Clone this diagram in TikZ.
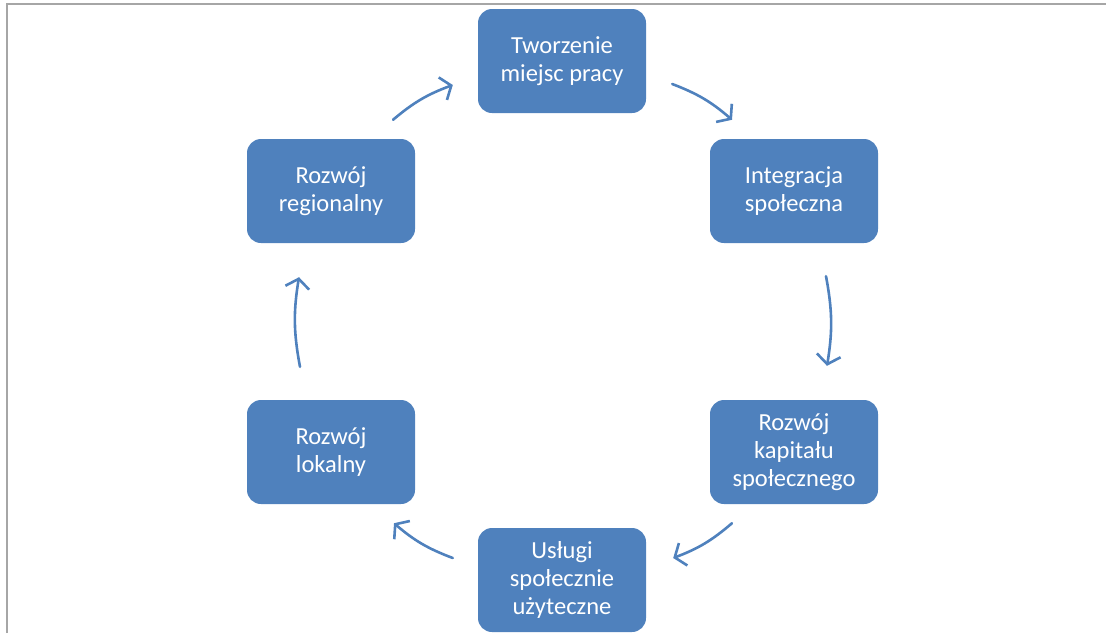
\documentclass[tikz,border=0pt]{standalone}
\usepackage{fontspec}
\setmainfont{Carlito}
\usetikzlibrary{arrows.meta}
\definecolor{niebieski}{HTML}{4F81BD}
\definecolor{ramka}{HTML}{A6A6A6}
\tikzset{
  blok/.style={rectangle,rounded corners=14pt,fill=niebieski,text=white,
    minimum width=168pt,minimum height=104pt,align=center,
    font=\fontsize{24.5}{28}\selectfont},
  strzalka/.style={niebieski,line width=2.6pt,line cap=round,
    -{Straight Barb[length=9pt,width=24pt,line width=2.6pt]},bend left=10}
}
\begin{document}
\begin{tikzpicture}[x=1pt,y=-1pt]
  \useasboundingbox (0,0) rectangle (1106,633);
  \draw[ramka,line width=2pt] (7,633) -- (7,3.5) -- (1106,3.5);

  \node[blok] (tworzenie)  at (562,61)  {Tworzenie\\miejsc pracy};
  \node[blok] (integracja) at (794,191) {Integracja\\społeczna};
  \node[blok] (kapital)    at (794,452) {Rozwój\\kapitału\\społecznego};
  \node[blok] (uslugi)     at (562,580) {Usługi\\społecznie\\użyteczne};
  \node[blok] (lokalny)    at (331,452) {Rozwój\\lokalny};
  \node[blok] (regionalny) at (331,191) {Rozwój\\regionalny};

  \draw[strzalka] ([shift={(62,-19)}]regionalny.north) to ([shift={(-25,24)}]tworzenie.west);
  \draw[strzalka] ([shift={(26,23)}]tworzenie.east) to ([shift={(-62,-19)}]integracja.north);
  \draw[strzalka] ([shift={(32,33)}]integracja.south) to ([shift={(33,-34)}]kapital.north);
  \draw[strzalka] ([shift={(-62,19)}]kapital.south) to ([shift={(27,-22)}]uslugi.east);
  \draw[strzalka] ([shift={(-25,-22)}]uslugi.west) to ([shift={(63,19)}]lokalny.south);
  \draw[strzalka] ([shift={(-31,-33)}]lokalny.north) to ([shift={(-32,34)}]regionalny.south);
\end{tikzpicture}
\end{document}
